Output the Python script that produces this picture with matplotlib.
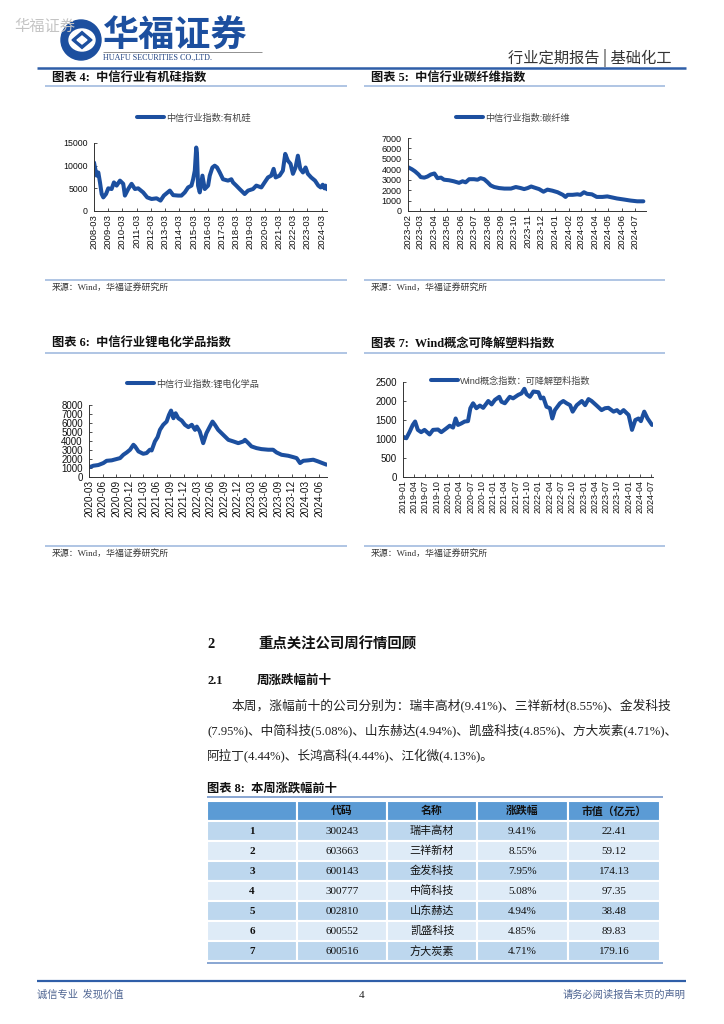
import matplotlib
matplotlib.use('Agg')
import matplotlib.pyplot as plt
import matplotlib.dates as mdates
from matplotlib.lines import Line2D
from matplotlib.patches import Ellipse, Polygon
from matplotlib.font_manager import FontProperties
import pandas as pd

W, H = 724, 1024
CJK = 'Noto Sans CJK SC'
SERIF = ['Liberation Serif', CJK]
SANS = ['Liberation Sans', CJK]
BLUE = '#1c4f9f'
LBLUE = '#9ab5dc'

# ---------------- data ----------------
silicone_dates = ['2008-03-01', '2008-03-26', '2008-05-08', '2008-06-20', '2008-08-02', '2008-09-14',
                  '2008-10-26', '2009-01-04', '2009-03-03', '2009-05-27', '2009-07-26', '2009-10-03',
                  '2009-12-28', '2010-03-22', '2010-05-04', '2010-07-28', '2010-10-22', '2011-01-16',
                  '2011-04-10', '2011-08-16', '2011-11-28', '2012-03-19', '2012-07-25', '2012-11-04',
                  '2013-01-28', '2013-07-01', '2013-09-25', '2014-02-01', '2014-04-25', '2014-07-19',
                  '2014-10-13', '2015-01-07', '2015-02-19', '2015-04-03', '2015-05-10', '2015-05-28',
                  '2015-06-26', '2015-08-09', '2015-10-16', '2015-12-15', '2016-03-10', '2016-04-21',
                  '2016-06-28', '2016-08-27', '2016-10-26', '2017-01-03', '2017-03-28', '2017-08-04',
                  '2017-10-28', '2017-12-10', '2018-03-04', '2018-05-28', '2018-10-05', '2018-12-31',
                  '2019-05-07', '2019-07-31', '2019-12-07', '2020-02-29', '2020-05-25', '2020-08-18',
                  '2020-10-18', '2020-12-09', '2021-03-19', '2021-06-12', '2021-08-12', '2021-10-19',
                  '2021-12-27', '2022-02-26', '2022-05-04', '2022-07-03', '2022-09-02', '2022-11-10',
                  '2023-01-17', '2023-03-16', '2023-06-10', '2023-09-16', '2023-12-10', '2024-02-09',
                  '2024-04-01', '2024-05-15', '2024-06-10', '2024-07-19']
silicone_vals = [10700, 9600, 7800, 8500, 6300, 3750,
                 3000, 3750, 5000, 4850, 6300, 5600,
                 6700, 6000, 3400, 4850, 6000, 4850,
                 5000, 4100, 3000, 2650, 2800, 2300,
                 3400, 4500, 3500, 3400, 3400, 4100,
                 5200, 5600, 7000, 8900, 14000, 12900,
                 5600, 4100, 7800, 4850, 5600, 7800,
                 9600, 10000, 9600, 8500, 7000, 6700,
                 7000, 6300, 5600, 4850, 3750, 4500,
                 4850, 5600, 5200, 6300, 7400, 7800,
                 9300, 7400, 7800, 8900, 12600, 11100,
                 10400, 8200, 9600, 12200, 9300, 8500,
                 9600, 8200, 7400, 6700, 5600, 5200,
                 5800, 5000, 5600, 4800]
silicone_ticks = ['%d-03-01' % y for y in range(2008, 2025)]

cf_dates = ['2023-02-01', '2023-02-10', '2023-02-17', '2023-02-25', '2023-03-02', '2023-03-10',
            '2023-03-17', '2023-03-25', '2023-04-02', '2023-04-09', '2023-04-17', '2023-04-24',
            '2023-05-05', '2023-05-16', '2023-05-28', '2023-06-05', '2023-06-12', '2023-06-20',
            '2023-07-01', '2023-07-09', '2023-07-16', '2023-07-24', '2023-08-01', '2023-08-08',
            '2023-08-16', '2023-08-27', '2023-09-08', '2023-09-23', '2023-10-04', '2023-10-15',
            '2023-10-23', '2023-10-31', '2023-11-08', '2023-11-15', '2023-11-26', '2023-12-06',
            '2023-12-15', '2023-12-26', '2024-01-07', '2024-01-19', '2024-01-25', '2024-01-30',
            '2024-02-10', '2024-02-21', '2024-02-28', '2024-03-07', '2024-03-14', '2024-03-25',
            '2024-04-05', '2024-04-18', '2024-04-29', '2024-05-10', '2024-05-21', '2024-06-06',
            '2024-06-21', '2024-07-06', '2024-07-20']
cf_vals = [4200, 4000, 3800, 3500, 3250, 3200,
           3300, 3500, 3600, 3150, 3200, 3000,
           2950, 2850, 2700, 2850, 2750, 3050,
           3050, 3000, 3150, 3050, 2750, 2450,
           2300, 2200, 2150, 2150, 2300, 2200,
           2100, 2200, 2350, 2250, 2100, 1850,
           2050, 1950, 1800, 1550, 1350, 1550,
           1550, 1600, 1550, 1800, 1650, 1600,
           1350, 1350, 1400, 1300, 1200, 1100,
           1000, 930, 930]
cf_ticks = ['2023-%02d-01' % m for m in range(2, 13)] + ['2024-%02d-01' % m for m in range(1, 8)]

li_dates = ['2020-03-01', '2020-03-30', '2020-05-03', '2020-06-06', '2020-06-28', '2020-08-01',
            '2020-09-04', '2020-09-27', '2020-10-19', '2020-11-11', '2020-12-03', '2020-12-26',
            '2021-01-06', '2021-01-29', '2021-03-02', '2021-03-25', '2021-04-16', '2021-04-28',
            '2021-05-20', '2021-06-07', '2021-06-23', '2021-07-15', '2021-08-07', '2021-08-23',
            '2021-09-06', '2021-09-22', '2021-10-07', '2021-10-25', '2021-11-17', '2021-12-09',
            '2022-01-01', '2022-01-24', '2022-02-15', '2022-02-27', '2022-03-19', '2022-04-11',
            '2022-05-03', '2022-05-26', '2022-06-13', '2022-06-29', '2022-07-21', '2022-08-24',
            '2022-09-28', '2022-11-01', '2022-12-04', '2023-01-07', '2023-01-18', '2023-02-10',
            '2023-03-03', '2023-04-06', '2023-05-09', '2023-06-24', '2023-07-27', '2023-08-19',
            '2023-09-22', '2023-11-06', '2023-12-10', '2024-01-02', '2024-01-25', '2024-02-16',
            '2024-03-20', '2024-04-23', '2024-05-26', '2024-06-23', '2024-07-22']
li_vals = [1070, 1250, 1330, 1550, 1800, 1850,
           2000, 2100, 2470, 2730, 3030, 3580,
           3400, 2840, 2580, 2660, 3030, 2950,
           3950, 4430, 5240, 5800, 6160, 6900,
           7380, 6530, 7080, 6530, 6270, 5800,
           5540, 5800, 5240, 5600, 5050, 3760,
           4870, 5600, 6160, 5800, 5240, 4690,
           4130, 3950, 3760, 3950, 4130, 3760,
           3400, 3210, 3100, 3030, 3030, 2730,
           2470, 2360, 2210, 2100, 1550, 1800,
           1850, 1920, 1730, 1550, 1370]
li_ticks = ['%d-%02d-01' % (y, m) for y in range(2020, 2025) for m in (3, 6, 9, 12)][:18]

pla_dates = ['2019-01-01', '2019-01-28', '2019-02-24', '2019-03-21', '2019-04-09', '2019-05-01',
             '2019-05-28', '2019-06-24', '2019-08-04', '2019-09-01', '2019-10-11', '2019-11-07',
             '2019-12-18', '2020-01-14', '2020-02-10', '2020-03-02', '2020-03-21', '2020-04-17',
             '2020-05-14', '2020-06-10', '2020-06-29', '2020-07-21', '2020-08-17', '2020-09-14',
             '2020-10-11', '2020-11-21', '2020-12-18', '2021-01-14', '2021-02-18', '2021-03-08',
             '2021-04-04', '2021-05-14', '2021-06-10', '2021-07-21', '2021-08-17', '2021-09-09',
             '2021-09-27', '2021-10-24', '2021-11-21', '2022-01-01', '2022-01-20', '2022-02-10',
             '2022-03-07', '2022-04-04', '2022-04-23', '2022-05-14', '2022-06-24', '2022-07-21',
             '2022-08-17', '2022-09-14', '2022-10-05', '2022-11-07', '2022-12-18', '2023-01-14',
             '2023-02-10', '2023-03-07', '2023-04-17', '2023-05-27', '2023-06-24', '2023-07-21',
             '2023-09-01', '2023-09-28', '2023-10-24', '2023-11-21', '2024-01-01', '2024-01-28',
             '2024-02-24', '2024-03-21', '2024-04-09', '2024-05-06', '2024-06-02', '2024-07-08']
pla_vals = [1060, 1020, 1190, 1370, 1460, 1240,
            1180, 1240, 1120, 1240, 1250, 1180,
            1280, 1350, 1300, 1540, 1370, 1410,
            1460, 1470, 1810, 1940, 1810, 1880,
            1820, 2000, 1910, 2030, 2110, 1980,
            1940, 2110, 2070, 2160, 2200, 2320,
            2180, 2110, 2250, 2230, 2070, 2090,
            1850, 1810, 1540, 1760, 1940, 2000,
            1940, 1890, 1720, 1890, 2000, 1890,
            2050, 2000, 1880, 1760, 1810, 1820,
            1720, 1760, 1680, 1760, 1630, 1240,
            1500, 1540, 1470, 1720, 1540, 1370]
pla_ticks = ['%d-%02d-01' % (y, m) for y in range(2019, 2025) for m in (1, 4, 7, 10)][:23]

table_header = ['', '代码', '名称', '涨跌幅', '市值（亿元）']
table_rank = ['1', '2', '3', '4', '5', '6', '7']
table_code = ['300243', '603663', '600143', '300777', '002810', '600552', '600516']
table_name = ['瑞丰高材', '三祥新材', '金发科技', '中简科技', '山东赫达', '凯盛科技', '方大炭素']
table_pct = ['9.41%', '8.55%', '7.95%', '5.08%', '4.94%', '4.85%', '4.71%']
table_cap = ['22.41', '59.12', '174.13', '97.35', '38.48', '89.83', '179.16']

# ---------------- figure ----------------
fig = plt.figure(figsize=(7.24, 10.24), dpi=100)
fig.patch.set_facecolor('white')


def fx(x):
    return x / W


def fy(y):
    return 1 - y / H


def txt(x, y, s, size, family=SERIF, weight='normal', color='#222222', ha='left', va='center'):
    fig.text(fx(x), fy(y), s, fontsize=size, family=family, fontweight=weight,
             color=color, ha=ha, va=va)


def hline(x0, x1, y, color, lw):
    fig.add_artist(Line2D([fx(x0), fx(x1)], [fy(y), fy(y)], transform=fig.transFigure,
                          color=color, lw=lw, solid_capstyle='butt'))


# header
txt(14, 26, '华福证券', 11, family=[CJK], color='#c4c4c4')
axl = fig.add_axes([fx(60), fy(61), 42 / W, 42 / H])
axl.set_xlim(0, 42)
axl.set_ylim(0, 42)
axl.axis('off')
axl.add_patch(Ellipse((21, 21), 40, 40, color=BLUE))
axl.add_patch(Ellipse((22, 21), 26, 22, color='white'))
axl.add_patch(Polygon([[22, 12.5], [32, 21], [22, 29.5], [12, 21]], closed=True, color=BLUE))
axl.add_patch(Polygon([[22, 17], [27, 21], [22, 25], [17, 21]], closed=True, color='white'))
txt(103, 36, '华福证券', 26, family=[CJK], weight='bold', color=BLUE)
hline(103, 262, 51.5, '#7f7f7f', 0.6)
txt(103, 57.5, 'HUAFU SECURITIES CO.,LTD.', 5.8, family=['Liberation Serif'], color='#1c3f7f')
txt(671, 58, '行业定期报告 | 基础化工', 11, family=[CJK], color='#333333', ha='right')
hline(37, 686, 68, '#2f5ea8', 1.8)


def chart(box, dates, vals, ylim, yticks, xticks, xlim, label, leg_xy, ysize, xsize):
    l, t, r, b = box
    ax = fig.add_axes([fx(l), fy(b), (r - l) / W, (b - t) / H])
    ax.plot(pd.to_datetime(dates), vals, color=BLUE, lw=2.9, label=label,
            solid_joinstyle='round', solid_capstyle='round')
    ax.set_ylim(*ylim)
    ax.set_yticks(yticks)
    ax.set_xlim(pd.Timestamp(xlim[0]), pd.Timestamp(xlim[1]))
    ax.set_xticks(pd.to_datetime(xticks))
    ax.xaxis.set_major_formatter(mdates.DateFormatter('%Y-%m'))
    for s in ['top', 'right']:
        ax.spines[s].set_visible(False)
    for s in ['left', 'bottom']:
        ax.spines[s].set_linewidth(0.7)
        ax.spines[s].set_color('#333333')
    ax.tick_params(axis='both', direction='in', length=2.5, width=0.6, color='#333333')
    ax.tick_params(axis='y', labelsize=ysize, pad=4.5)
    ax.tick_params(axis='x', labelsize=xsize, labelrotation=90, pad=2)
    for lab in ax.get_xticklabels() + ax.get_yticklabels():
        lab.set_family('Liberation Sans')
        lab.set_color('#111111')
    leg = ax.legend(loc='center left', bbox_to_anchor=(fx(leg_xy[0]), fy(leg_xy[1])),
                    bbox_transform=fig.transFigure, frameon=False,
                    prop=FontProperties(family=SANS, size=6.6), handlelength=2.9,
                    handletextpad=0.3, borderpad=0, borderaxespad=0)
    for tx in leg.get_texts():
        tx.set_color('#444444')
    return ax


def chart_frame(x0, x1, ytitle, yline, ysrc, num, name):
    txt(x0 + 7, ytitle, '图表 %d:  ' % num + name, 8.8, family=SERIF, weight='bold', color='#111111')
    hline(x0, x1, yline, LBLUE, 1.1)
    hline(x0, x1, ysrc - 7, LBLUE, 1.1)
    txt(x0 + 7, ysrc, '来源：Wind，华福证券研究所', 6.4, family=SERIF, color='#333333')


chart_frame(45, 347, 78, 86, 287, 4, '中信行业有机硅指数')
chart_frame(364, 665, 78, 86, 287, 5, '中信行业碳纤维指数')
chart_frame(45, 347, 344, 353, 553, 6, '中信行业锂电化学品指数')
chart_frame(364, 665, 344, 353, 553, 7, 'Wind概念可降解塑料指数')

chart((94, 143, 327, 211), silicone_dates, silicone_vals, (0, 15000), [0, 5000, 10000, 15000],
      silicone_ticks, ('2008-03-01', '2024-07-20'), '中信行业指数:有机硅', (137, 118), 6.3, 6.8)
chart((408, 138, 646, 211), cf_dates, cf_vals, (0, 7000), list(range(0, 7001, 1000)),
      cf_ticks, ('2023-02-01', '2024-07-26'), '中信行业指数:碳纤维', (456, 118), 6.5, 6.8)
chart((89, 405, 327, 477), li_dates, li_vals, (0, 8000), list(range(0, 8001, 1000)),
      li_ticks, ('2020-03-01', '2024-07-25'), '中信行业指数:锂电化学品', (127, 384), 7.0, 7.2)
chart((403, 382, 653, 477), pla_dates, pla_vals, (0, 2500), list(range(0, 2501, 500)),
      pla_ticks, ('2019-01-01', '2024-07-16'), 'Wind概念指数：可降解塑料指数', (431, 381), 7.0, 6.4)

# section text
txt(207, 644, '2', 10.4, family=SERIF, weight='bold', color='#111111')
txt(258, 644, '重点关注公司周行情回顾', 10.4, family=SERIF, weight='bold', color='#111111')
txt(207, 681, '2.1', 9, family=SERIF, weight='bold', color='#111111')
txt(257, 681, '周涨跌幅前十', 9, family=SERIF, weight='bold', color='#111111')
txt(232, 705, '本周，涨幅前十的公司分别为：瑞丰高材(9.41%)、三祥新材(8.55%)、金发科技', 9.15)
txt(207, 730, '(7.95%)、中简科技(5.08%)、山东赫达(4.94%)、凯盛科技(4.85%)、方大炭素(4.71%)、', 9.1)
txt(207, 755, '阿拉丁(4.44%)、长鸿高科(4.44%)、江化微(4.13%)。', 9.1)

# table
txt(207, 789, '图表 8:  本周涨跌幅前十', 8.8, family=SERIF, weight='bold', color='#111111')
hline(207, 663, 797, '#7f9fcf', 1.3)
axt = fig.add_axes([fx(207), fy(961), (660 - 207) / W, (961 - 801) / H])
axt.axis('off')
rows = [[a, b, c, d, e] for a, b, c, d, e in zip(table_rank, table_code, table_name, table_pct, table_cap)]
tbl = axt.table(cellText=rows, colLabels=table_header, colWidths=[90, 90, 90, 91, 92],
                bbox=[0, 0, 1, 1], cellLoc='center')
tbl.auto_set_font_size(False)
for (r, c), cell in tbl.get_celld().items():
    cell.set_edgecolor('white')
    cell.set_linewidth(1.5)
    t = cell.get_text()
    if r == 0:
        cell.set_facecolor('#5b9bd5')
        t.set_fontweight('bold')
        t.set_fontfamily(SERIF)
        t.set_fontsize(7.8)
    else:
        cell.set_facecolor('#bdd7ee' if r % 2 == 1 else '#deebf7')
        t.set_fontfamily(SERIF)
        t.set_fontsize(8)
        if c == 0:
            t.set_fontweight('bold')
    t.set_color('#111111')
hline(207, 663, 963, '#7f9fcf', 1.3)

# footer
hline(37, 686, 981, '#2f5ea8', 1.6)
txt(37, 995, '诚信专业  发现价值', 7.4, family=[CJK], color='#4f6592')
txt(362, 995, '4', 8, family=SERIF, color='#222222', ha='center')
txt(686, 995, '请务必阅读报告末页的声明', 7.4, family=[CJK], color='#4f6592', ha='right')

fig.savefig('out.png', dpi=100, facecolor='white')
